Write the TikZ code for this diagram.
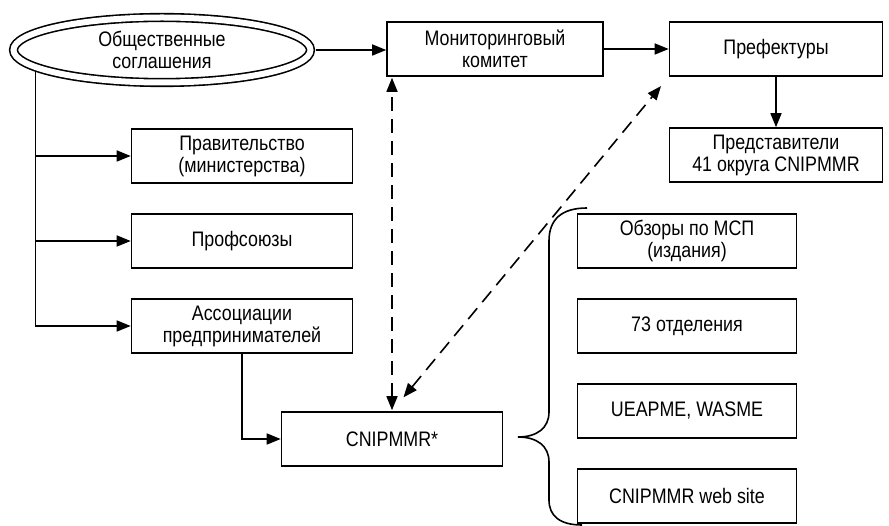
\documentclass[tikz,border=0pt]{standalone}
\usepackage{fontspec}
\setmainfont{Liberation Sans}[FakeStretch=0.85]
\usetikzlibrary{arrows.meta,positioning,shapes.geometric}

\begin{document}
\begin{tikzpicture}[x=1pt, y=-1pt,
      box/.style={draw, line width=1.6pt, minimum width=221pt, minimum height=54pt,
                  inner sep=0pt, align=center, font=\fontsize{21}{22}\selectfont},
      oval/.style={ellipse, draw, double, double distance=6pt, line width=1.6pt,
                   minimum width=297pt, minimum height=65pt, inner sep=0pt,
                   align=center, font=\fontsize{21}{22}\selectfont},
      arr/.style={-{Triangle[length=14pt,width=11pt]}, line width=1.6pt},
      darr/.style={{Triangle[length=14pt,width=11pt]}-{Triangle[length=14pt,width=11pt]},
                   line width=1.6pt, dash pattern=on 14pt off 8pt}
    ]
    \useasboundingbox (0,0) rectangle (889,526);

    \node[oval] (pub) at (162,50) {Общественные\\соглашения};
    \node[box, minimum width=216pt] (mon) at (495,49) {Мониторинговый\\комитет};
    \node[box, minimum width=213pt] (pref) at (776,49) {Префектуры};
    \node[box, minimum width=213pt] (pred) at (776,155) {Представители\\41 округа CNIPMMR};

    \node[box] (prav) at (242,156) {Правительство\\(министерства)};
    \node[box] (prof) at (242,241) {Профсоюзы};
    \node[box] (assoc) at (242,326) {Ассоциации\\предпринимателей};
    \node[box] (cnip) at (392,439) {CNIPMMR*};

    \node[box, minimum width=219pt] (obz) at (687,241) {Обзоры по МСП\\(издания)};
    \node[box, minimum width=219pt] (otd) at (687,326) {73 отделения};
    \node[box, minimum width=219pt] (ueap) at (687,411) {UEAPME, WASME};
    \node[box, minimum width=219pt] (web) at (687,496) {CNIPMMR web site};

    \coordinate (trunk) at (pub.188);
    \draw[arr, shorten <=4.6pt] (pub.east) -- (pub.east -| mon.west);
    \draw[arr] (mon) -- (pref);
    \draw[arr] (pref) -- (pred);
    \draw[arr, shorten <=4.6pt] (trunk) |- (assoc);
    \draw[arr] (trunk |- prav) -- (prav);
    \draw[arr] (trunk |- prof) -- (prof);
    \draw[arr] (assoc) |- (cnip);

    \draw[darr, shorten <=1pt, shorten >=1pt] (cnip.north) -- (cnip.north |- mon.south);
    \draw[darr, shorten <=18pt, shorten >=12pt] (cnip.north) -- (pref.south west);

    % brace over the four outlets
    \draw[line width=1.6pt] (587,208) .. controls (562,208) and (549,219) .. (549,241)
      -- (549,412) .. controls (549,428) and (537,437) .. (518,437)
      .. controls (537,437) and (549,446) .. (549,462)
      -- (549,500) .. controls (549,516) and (560,525) .. (582,525);
  \end{tikzpicture}
\end{document}
